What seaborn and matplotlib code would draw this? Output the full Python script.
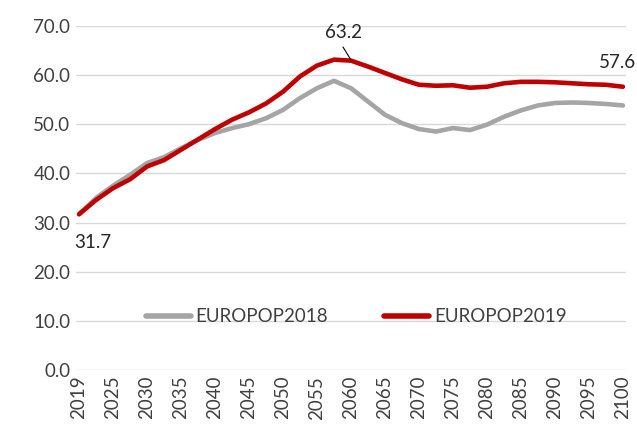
import numpy as np
import pandas as pd
import matplotlib
matplotlib.use("Agg")
import matplotlib.pyplot as plt
from matplotlib.lines import Line2D
import seaborn as sns

# Tick labels (evenly spaced categories)
year_labels = ["2019", "2025", "2030", "2035", "2040", "2045", "2050", "2055", "2060",
               "2065", "2070", "2075", "2080", "2085", "2090", "2095", "2100"]

# Series values read at every half category step
europop2018 = [31.7, 35.0, 37.5, 39.7, 42.1, 43.3, 45.1, 46.8, 48.2, 49.2, 50.0, 51.2,
               52.9, 55.3, 57.3, 58.8, 57.3, 54.6, 51.9, 50.2, 49.0, 48.5, 49.2, 48.8,
               49.9, 51.5, 52.8, 53.8, 54.3, 54.4, 54.3, 54.1, 53.8]
europop2019 = [31.7, 34.6, 37.0, 38.8, 41.4, 42.7, 44.8, 46.9, 49.0, 50.9, 52.4, 54.2,
               56.6, 59.7, 61.9, 63.1, 62.9, 61.7, 60.4, 59.1, 58.0, 57.8, 57.9, 57.4,
               57.6, 58.3, 58.6, 58.6, 58.5, 58.3, 58.1, 58.0, 57.6]

series_names = ["EUROPOP2018", "EUROPOP2019"]
colors = ["#A5A5A5", "#C00000"]

pos = np.arange(len(europop2018)) / 2.0
df = pd.DataFrame({
    "pos": np.concatenate([pos, pos]),
    "value": europop2018 + europop2019,
    "series": [series_names[0]] * len(pos) + [series_names[1]] * len(pos),
})

sns.set_theme(style="white")
plt.rcParams["font.family"] = ["Lato", "DejaVu Sans"]
FS = 13.5

fig = plt.figure(figsize=(6.37, 4.28), dpi=100)
ax = fig.add_axes([76 / 637, 1 - 370.3 / 428, 550 / 637, (370.3 - 25.7) / 428])

sns.lineplot(data=df, x="pos", y="value", hue="series", palette=colors,
             linewidth=3.3, ax=ax, legend=True, solid_capstyle="round",
             solid_joinstyle="round")

ax.set_ylim(0, 70)
ax.set_xlim(-0.09, 16.09)
ax.set_yticks(np.arange(0, 71, 10))
ax.set_yticklabels([f"{v:.1f}" for v in np.arange(0, 71, 10)], fontsize=FS, color="#404040")
ax.set_xticks(np.arange(len(year_labels)))
ax.set_xticklabels(year_labels, rotation=90, fontsize=FS, color="#404040")
ax.tick_params(axis="both", length=0, pad=4)
ax.set_xlabel("")
ax.set_ylabel("")
ax.grid(axis="y", color="#D9D9D9", linewidth=1)
ax.set_axisbelow(True)
for s in ax.spines.values():
    s.set_visible(False)

# Data labels
fig.text(93 / 637, 1 - 242 / 428, "31.7", ha="center", va="center", fontsize=FS, color="#262626")
fig.text(343 / 637, 1 - 32 / 428, "63.2", ha="center", va="center", fontsize=FS, color="#262626")
fig.add_artist(Line2D([343 / 637, 351 / 637], [1 - 47 / 428, 1 - 60 / 428],
                      transform=fig.transFigure, color="black", lw=0.8))
fig.text(617 / 637, 1 - 62 / 428, "57.6", ha="center", va="center", fontsize=FS, color="#262626")

leg = ax.legend(loc="center", bbox_to_anchor=(0.509, 0.155), ncol=2, frameon=False,
                fontsize=FS, handlelength=2.4, handletextpad=0.25, columnspacing=3.0)
for line in leg.get_lines():
    line.set_linewidth(4)
for t in leg.get_texts():
    t.set_color("#404040")

fig.savefig("out.png", dpi=100)
